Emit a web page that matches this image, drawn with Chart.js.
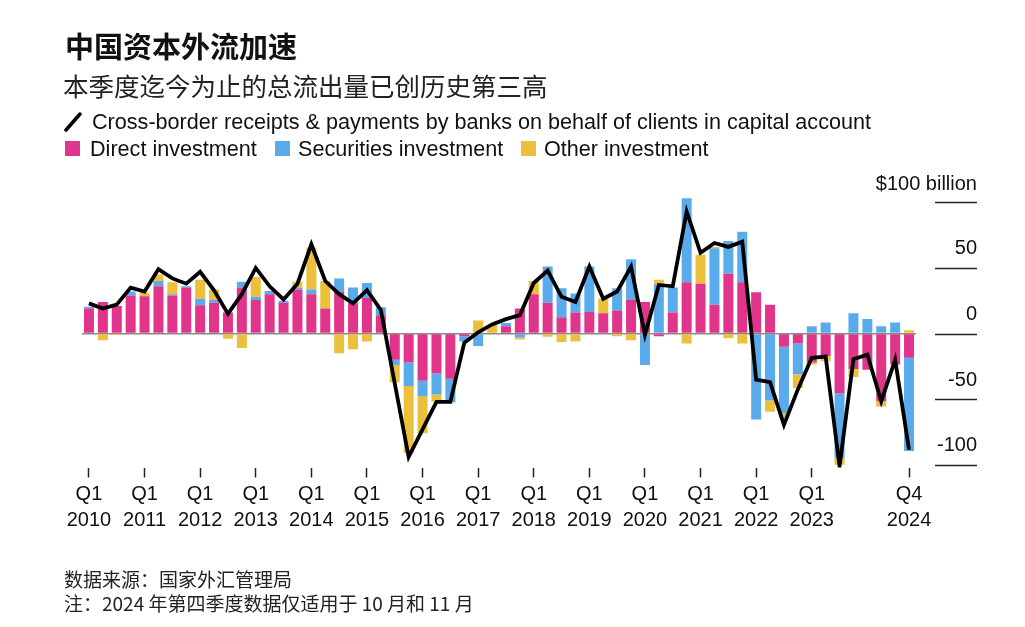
<!DOCTYPE html>
<html>
<head>
<meta charset="utf-8">
<script src="https://cdn.jsdelivr.net/npm/chart.js@4/dist/chart.umd.min.js"></script>
<style>
  body { margin: 0; background: #fff; width: 1025px; height: 627px; overflow: hidden; position: relative;
         font-family: "Liberation Sans", Arial, sans-serif; color: #1a1a1a; }
  #wrap { position: absolute; left: 0; top: 0; width: 1025px; height: 627px; }
  .t { position: absolute; white-space: nowrap; line-height: 1; }
  .cjk { font-family: "Noto Sans CJK SC", "Noto Sans", sans-serif; }
  #title { left: 65px; top: 31px; font-size: 29px; font-weight: 700; color: #111; }
  #subtitle { left: 63px; top: 72px; font-size: 25.5px; color: #222; }
  .leg { font-size: 21.6px; color: #111; }
  .sq { position: absolute; width: 15px; height: 15px; }
  .foot { font-size: 19px; color: #222; }
  #unit { right: 48px; top: 173px; font-size: 20px; color: #111; }
</style>
</head>
<body>
<div id="wrap"><canvas id="chart" width="1025" height="627"></canvas></div>

<div id="title" class="t cjk">中国资本外流加速</div>
<div id="subtitle" class="t cjk">本季度迄今为止的总流出量已创历史第三高</div>

<svg style="position:absolute;left:64px;top:111px" width="20" height="22">
  <line x1="2" y1="19" x2="16" y2="3" stroke="#000" stroke-width="3.5" stroke-linecap="round"/>
</svg>
<div class="t leg" style="left:92px;top:111px">Cross-border receipts &amp; payments by banks on behalf of clients in capital account</div>

<div class="sq" style="left:65px;top:141px;background:#e0358a"></div>
<div class="t leg" style="left:90px;top:138px">Direct investment</div>
<div class="sq" style="left:275px;top:141px;background:#5aabeb"></div>
<div class="t leg" style="left:298px;top:138px">Securities investment</div>
<div class="sq" style="left:521px;top:141px;background:#ecc03a"></div>
<div class="t leg" style="left:544px;top:138px">Other investment</div>

<div id="unit" class="t">$100 billion</div>

<div class="t foot cjk" style="left:64px;top:569px">数据来源：国家外汇管理局</div>
<div class="t foot cjk" style="left:64px;top:593px">注：2024 年第四季度数据仅适用于 10 月和 11 月</div>

<script>
// ─── Datos (miles de millones de USD, por trimestre) ─────────────────────────
const quarters = [
  'Q1 2010','Q2 2010','Q3 2010','Q4 2010','Q1 2011','Q2 2011','Q3 2011','Q4 2011',
  'Q1 2012','Q2 2012','Q3 2012','Q4 2012','Q1 2013','Q2 2013','Q3 2013','Q4 2013',
  'Q1 2014','Q2 2014','Q3 2014','Q4 2014','Q1 2015','Q2 2015','Q3 2015','Q4 2015',
  'Q1 2016','Q2 2016','Q3 2016','Q4 2016','Q1 2017','Q2 2017','Q3 2017','Q4 2017',
  'Q1 2018','Q2 2018','Q3 2018','Q4 2018','Q1 2019','Q2 2019','Q3 2019','Q4 2019',
  'Q1 2020','Q2 2020','Q3 2020','Q4 2020','Q1 2021','Q2 2021','Q3 2021','Q4 2021',
  'Q1 2022','Q2 2022','Q3 2022','Q4 2022','Q1 2023','Q2 2023','Q3 2023','Q4 2023',
  'Q1 2024','Q2 2024','Q3 2024','Q4 2024'
];

const directInvestment = [
  19, 24, 21, 29, 28.5, 36, 29, 35, 21.5, 23.5, 16, 35,
  25.5, 30, 23.5, 33.5, 30, 19, 32, 23, 27, 14, -20, -22,
  -36, -30.5, -34.5, -2, 0, 0, 5.5, 19, 30, 23.5, 12.5, 16,
  16.5, 15.5, 17.5, 26, 24, -2, 16, 39, 38, 22, 45.5, 39,
  31.5, 22, -10, -7.5, -22, -17, -45.5, -27, -27.5, -51.5, -23.5, -18.5
];

const securitiesInvestment = [
  1.5, 0, 0, 3, 0, 4, 1, 1, 5, 2, 0, 4.5,
  2.5, 2.5, 1.5, 1.5, 3.5, 0, 10, 12, 11.5, 6, -4, -18,
  -11.5, -16, -18, -4, -9.5, 0, 2.5, -3, 0, 27.5, 22, 14.5,
  34.5, 0, 17, 30.5, -24, 37.5, 19, 64, 0, 43, 25, 38.5,
  -65.5, -51, -50.5, -23.5, 5.5, 8.5, -49.5, 15.5, 11, 5.5, 8.5, -71
];

const otherInvestment = [
  0, -5, -1, 0, 2.5, 5, 9, 0, 14.5, 8, -4, -11,
  15, 0, 0, 4.5, 32, 21, -15, -12, -6, 0, -13, -51,
  -28.5, -5.5, 0, 0, 10, 6.5, 0, -1.5, 10, -2.5, -6.5, -6,
  0, 11, -2, -5, 0, 3.5, 0, -7.5, 22, 1, -3.5, -7.5,
  0, -8.5, -4, -10.5, -1.5, -4, -5, -6, 0, -4, 0, 2.5
];

// Línea negra: cobros y pagos transfronterizos de la cuenta de capital
const bankFlows = [
  23, 19, 22, 35, 32, 49, 42, 38, 47, 33, 15, 30,
  50, 36, 26, 38, 68, 40, 30, 23, 33, 18, -38, -94,
  -73, -52, -52, -7, 1, 7, 11, 14, 38.5, 48, 28, 24,
  51, 26.5, 32, 51, -1, 37, 36, 93, 61.5, 69, 66, 70,
  -35, -37, -69.5, -42.5, -18.5, -17.5, -101, -19.5, -16, -51.5, -20, -88.5
];

// Etiquetas del eje
const tickQuarters = [
  'Q1 2010','Q1 2011','Q1 2012','Q1 2013','Q1 2014','Q1 2015','Q1 2016',
  'Q1 2017','Q1 2018','Q1 2019','Q1 2020','Q1 2021','Q1 2022','Q1 2023','Q4 2024'
];
const yTicks = [-100, -50, 0, 50, 100];

const COLORES = { direct: '#e0358a', securities: '#5aabeb', other: '#ecc03a', line: '#000000' };
const FONT_FAMILY = '"Liberation Sans", Arial, sans-serif';
const Y_FONT_SIZE = 20;

// El 100 lo pone el texto "$100 billion" de arriba
const yLabel = v => (v === 100 ? '' : String(v));

// Ancho de la etiqueta más larga (para alinear a la derecha)
const mctx = document.createElement('canvas').getContext('2d');
mctx.font = `${Y_FONT_SIZE}px ${FONT_FAMILY}`;
const widest = Math.max(...yTicks.map(v => mctx.measureText(yLabel(v)).width));

// Segmentos cortos bajo las etiquetas del eje Y
const yTickSegments = {
    id: 'yTickSegments',
    afterDraw(chart) {
        const y = chart.scales.y;
        const ctx = chart.ctx;
        ctx.save();
        ctx.strokeStyle = '#222';
        ctx.lineWidth = 1.5;
        yTicks.forEach(v => {
            const py = Math.round(y.getPixelForValue(v)) + 0.5;
            ctx.beginPath();
            ctx.moveTo(y.left + 19, py);
            ctx.lineTo(y.right, py);
            ctx.stroke();
        });
        ctx.restore();
    }
};

const barCommon = { stack: 'flows', categoryPercentage: 1, barPercentage: 0.72, order: 1 };

new Chart(document.getElementById('chart'), {
    type: 'bar',
    data: {
        labels: quarters,
        datasets: [
            { label: 'Direct investment', data: directInvestment, backgroundColor: COLORES.direct, ...barCommon },
            { label: 'Securities investment', data: securitiesInvestment, backgroundColor: COLORES.securities, ...barCommon },
            { label: 'Other investment', data: otherInvestment, backgroundColor: COLORES.other, ...barCommon },
            {
                type: 'line',
                label: 'Cross-border receipts & payments',
                data: bankFlows,
                stack: 'line',
                order: 0,
                borderColor: COLORES.line,
                borderWidth: 3.8,
                pointRadius: 0,
                tension: 0,
                borderJoinStyle: 'miter'
            }
        ]
    },
    options: {
        responsive: false,
        animation: false,
        devicePixelRatio: 1,
        layout: { padding: { left: 82, right: 48, top: 197, bottom: 0 } },
        plugins: { legend: { display: false }, tooltip: { enabled: false } },
        scales: {
            x: {
                stacked: true,
                afterFit: s => { s.height = 159.5; },
                border: { display: false },
                grid: {
                    offset: false,
                    drawOnChartArea: false,
                    drawTicks: true,
                    tickLength: 10,
                    tickWidth: 1.5,
                    tickColor: c => (tickQuarters.includes(quarters[c.index]) ? '#222' : 'rgba(0,0,0,0)')
                },
                ticks: {
                    autoSkip: false,
                    maxRotation: 0,
                    padding: 4,
                    color: '#111',
                    font: { family: FONT_FAMILY, size: 20, lineHeight: 1.3 },
                    callback: (v, i) => (tickQuarters.includes(quarters[i]) ? quarters[i].split(' ') : '')
                }
            },
            y: {
                stacked: true,
                position: 'right',
                min: -102,
                max: 104,
                afterFit: s => { s.width = 61; },
                afterBuildTicks: s => { s.ticks = yTicks.map(v => ({ value: v })); },
                border: { display: false },
                grid: {
                    drawTicks: false,
                    lineWidth: c => (c.tick && c.tick.value === 0 ? 1.5 : 0),
                    color: c => (c.tick && c.tick.value === 0 ? '#8a8a8a' : 'rgba(0,0,0,0)')
                },
                ticks: {
                    crossAlign: 'far',
                    padding: 61 - widest,
                    labelOffset: -19,
                    color: '#111',
                    font: { family: FONT_FAMILY, size: Y_FONT_SIZE },
                    callback: v => yLabel(v)
                }
            }
        }
    },
    plugins: [yTickSegments]
});
</script>
</body>
</html>
